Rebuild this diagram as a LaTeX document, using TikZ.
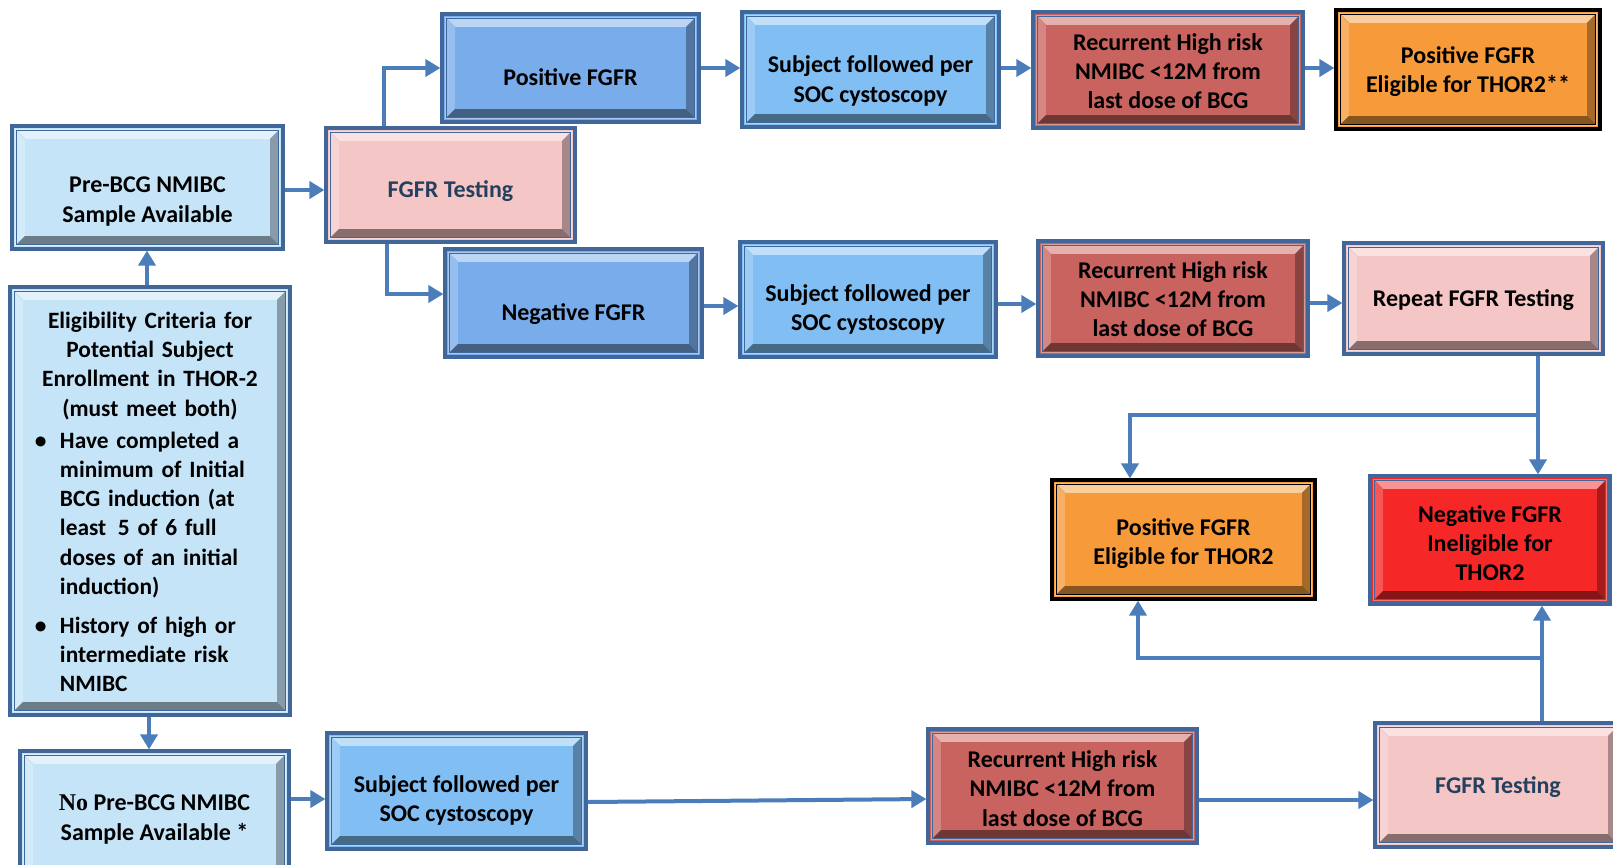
\documentclass[tikz,border=0pt]{standalone}
\usepackage{fontspec}
\setmainfont{Carlito}
\newfontfamily\serifno{Liberation Serif}
\usetikzlibrary{arrows.meta,calc}

% face and frame colours
\definecolor{lightface}{HTML}{C6E4F7}
\definecolor{posface}{HTML}{79ACEA}
\definecolor{socface}{HTML}{80BEF4}
\definecolor{pinkface}{HTML}{F5C6C6}
\definecolor{recface}{HTML}{C9635F}
\definecolor{orangeface}{HTML}{F69A3A}
\definecolor{redface}{HTML}{F52727}
\definecolor{frameblue}{HTML}{41679A}
\definecolor{flowblue}{HTML}{4A7DBA}
\definecolor{testtext}{HTML}{25405F}

\tikzset{
  % bevelled box: #1 face colour, #2 frame colour
  bevbox/.style 2 args={rectangle, draw=#2, line width=1.6pt, fill=#1, inner sep=0pt,
    path picture={
      \coordinate (bA) at (path picture bounding box.north west);
      \coordinate (bB) at (path picture bounding box.north east);
      \coordinate (bC) at (path picture bounding box.south east);
      \coordinate (bD) at (path picture bounding box.south west);
      \fill[#1!65!white] ($(bA)+(1.5pt,-1.5pt)$) rectangle ($(bC)+(-1.5pt,1.5pt)$);
      \fill[#2] ($(bA)+(2.1pt,-2.1pt)$) rectangle ($(bC)+(-2.1pt,2.1pt)$);
      \fill[#1!50!white] ($(bA)+(2.6pt,-2.6pt)$) -- ($(bB)+(-2.6pt,-2.6pt)$)
        -- ($(bB)+(-6.6pt,-6.6pt)$) -- ($(bA)+(6.6pt,-6.6pt)$) -- cycle;
      \fill[#1!78!white] ($(bA)+(2.6pt,-2.6pt)$) -- ($(bA)+(6.6pt,-6.6pt)$)
        -- ($(bD)+(6.6pt,6.6pt)$) -- ($(bD)+(2.6pt,2.6pt)$) -- cycle;
      \fill[#1!55!black] ($(bD)+(2.6pt,2.6pt)$) -- ($(bC)+(-2.6pt,2.6pt)$)
        -- ($(bC)+(-6.6pt,6.6pt)$) -- ($(bD)+(6.6pt,6.6pt)$) -- cycle;
      \fill[#1!68!black] ($(bB)+(-2.6pt,-2.6pt)$) -- ($(bC)+(-2.6pt,2.6pt)$)
        -- ($(bC)+(-6.6pt,6.6pt)$) -- ($(bB)+(-6.6pt,-6.6pt)$) -- cycle;
      \fill[#1] ($(bA)+(6.6pt,-6.6pt)$) rectangle ($(bC)+(-6.6pt,6.6pt)$);
    }},
  lightbox/.style={bevbox={lightface}{frameblue}},
  posbox/.style={bevbox={posface}{frameblue}},
  socbox/.style={bevbox={socface}{frameblue}},
  pinkbox/.style={bevbox={pinkface}{frameblue}},
  recbox/.style={bevbox={recface}{frameblue}},
  orangebox/.style={bevbox={orangeface}{black}},
  redbox/.style={bevbox={redface}{frameblue}},
  boxtext/.style={inner sep=0pt, align=center, text=black,
    font=\bfseries\fontsize{12}{14.6}\selectfont},
  flow/.style={draw=flowblue, line width=2pt, -{Triangle[length=7.5pt,width=8.5pt]}},
}

% #1 name, #2 box style, #3-#6 corners (x1,y1,x2,y2), #7 text drop, #8 text
\newcommand\flowbox[8]{%
  \node[#2, minimum width={(#5-#3)*0.5pt}, minimum height={(#6-#4)*0.5pt}]
    (#1) at ({(#3+#5)/2},{(#4+#6)/2}) {};
  \node[boxtext] (#1-text) at ([yshift={-(#7)*0.5pt}]#1.center) {#8};
}

\begin{document}
\begin{tikzpicture}[x=0.5pt,y=-0.5pt]
\useasboundingbox (0,0) rectangle (1613,864);
\clip (0,0) rectangle (1613,864);
\fill[white] (0,0) rectangle (1613,864);

% left column
\flowbox{pre}{lightbox}{12}{126}{283}{249}{14}{Pre-BCG NMIBC\\Sample Available}
\flowbox{nopre}{lightbox}{20}{751}{289}{882}{3}{{\serifno No} Pre-BCG NMIBC\\Sample Available *}
\node[lightbox, minimum width=140pt, minimum height=214pt] (elig) at (150,501) {};
\node[boxtext, text width=125pt, align=left, font=\bfseries\fontsize{11.7}{14.6}\selectfont]
  (elig-text) at ([yshift=-0.5pt]elig.center) {%
  \makebox[\hsize]{Eligibility Criteria for}\\
  \makebox[\hsize]{Potential Subject}\\
  \makebox[\hsize]{Enrollment in THOR-2}\\
  \makebox[\hsize]{(must meet both)}\\[1.5pt]
  \hspace*{5pt}\makebox[12.5pt][l]{\textbullet}Have completed a\\
  \hspace*{17.5pt}minimum of Initial\\
  \hspace*{17.5pt}BCG induction (at\\
  \hspace*{17.5pt}least\enspace 5 of 6 full\\
  \hspace*{17.5pt}doses of an initial\\
  \hspace*{17.5pt}induction)\\[5pt]
  \hspace*{5pt}\makebox[12.5pt][l]{\textbullet}History of high or\\
  \hspace*{17.5pt}intermediate risk\\
  \hspace*{17.5pt}NMIBC};

% upper branch
\flowbox{t1}{pinkbox}{326}{128}{575}{242}{6.5}{\textcolor{testtext}{FGFR Testing}}
\flowbox{pos}{posbox}{442}{14}{699}{122}{9}{Positive FGFR}
\flowbox{s1}{socbox}{742}{12}{999}{127}{11.5}{Subject followed per\\SOC cystoscopy}
\flowbox{r1}{recbox}{1033}{12}{1303}{128}{1}{Recurrent High risk\\NMIBC <12M from\\last dose of BCG}
\flowbox{pe1}{orangebox}{1336}{10}{1600}{129}{2}{Positive FGFR\\Eligible for THOR2**}

% negative branch
\flowbox{neg}{posbox}{445}{249}{702}{357}{11}{Negative FGFR}
\flowbox{s2}{socbox}{740}{242}{996}{357}{10}{Subject followed per\\SOC cystoscopy}
\flowbox{r2}{recbox}{1038}{241}{1308}{356}{0.5}{Recurrent High risk\\NMIBC <12M from\\last dose of BCG}
\flowbox{rep}{pinkbox}{1344}{243}{1603}{354}{2}{Repeat FGFR Testing}

% outcomes
\flowbox{pe2}{orangebox}{1052}{480}{1315}{599}{4}{Positive FGFR\\Eligible for THOR2}
\flowbox{ni}{redbox}{1370}{476}{1610}{604}{3}{Negative FGFR\\Ineligible for\\THOR2}

% lower branch
\flowbox{s3}{socbox}{327}{733}{586}{849}{9.5}{Subject followed per\\SOC cystoscopy}
\flowbox{r3}{recbox}{928}{729}{1197}{843}{2.5}{Recurrent High risk\\NMIBC <12M from\\last dose of BCG}
\flowbox{t3}{pinkbox}{1375}{723}{1621}{847}{2}{\textcolor{testtext}{FGFR Testing}}

% connectors
\draw[flow] (pre.east |- 0,190) -- (t1.west |- 0,190);
\draw[flow] (t1.north -| 384,0) |- (pos.west);
\draw[flow] (t1.south -| 387,0) |- (neg.west |- 0,294);
\draw[flow] (pos.east) -- (s1.west |- pos.east);
\draw[flow] (s1.east |- 0,68) -- (r1.west |- 0,68);
\draw[flow] (r1.east |- 0,68) -- (pe1.west |- 0,68);
\draw[flow] (neg.east |- 0,306) -- (s2.west |- 0,306);
\draw[flow] (s2.east |- 0,304) -- (r2.west |- 0,304);
\draw[flow] (r2.east |- 0,303) -- (rep.west |- 0,303);
\coordinate (split1) at (1538,415);
\draw[flow] (rep.south -| split1) -- (ni.north -| split1);
\draw[flow] (split1) -| (pe2.north -| 1130,0);
\coordinate (split2) at (1542,658);
\draw[flow] (t3.north -| split2) -- (ni.south -| split2);
\draw[flow] (split2) -| (pe2.south -| 1138,0);
\draw[flow] (elig.north -| 147,0) -- (pre.south -| 147,0);
\draw[flow] (elig.south -| 149,0) -- (nopre.north -| 149,0);
\draw[flow] (nopre.east |- 0,799) -- (s3.west |- 0,799);
\draw[flow] (s3.east |- 0,802) -- (r3.west |- 0,799);
\draw[flow] (r3.east |- 0,800) -- (t3.west |- 0,800);
\end{tikzpicture}
\end{document}
